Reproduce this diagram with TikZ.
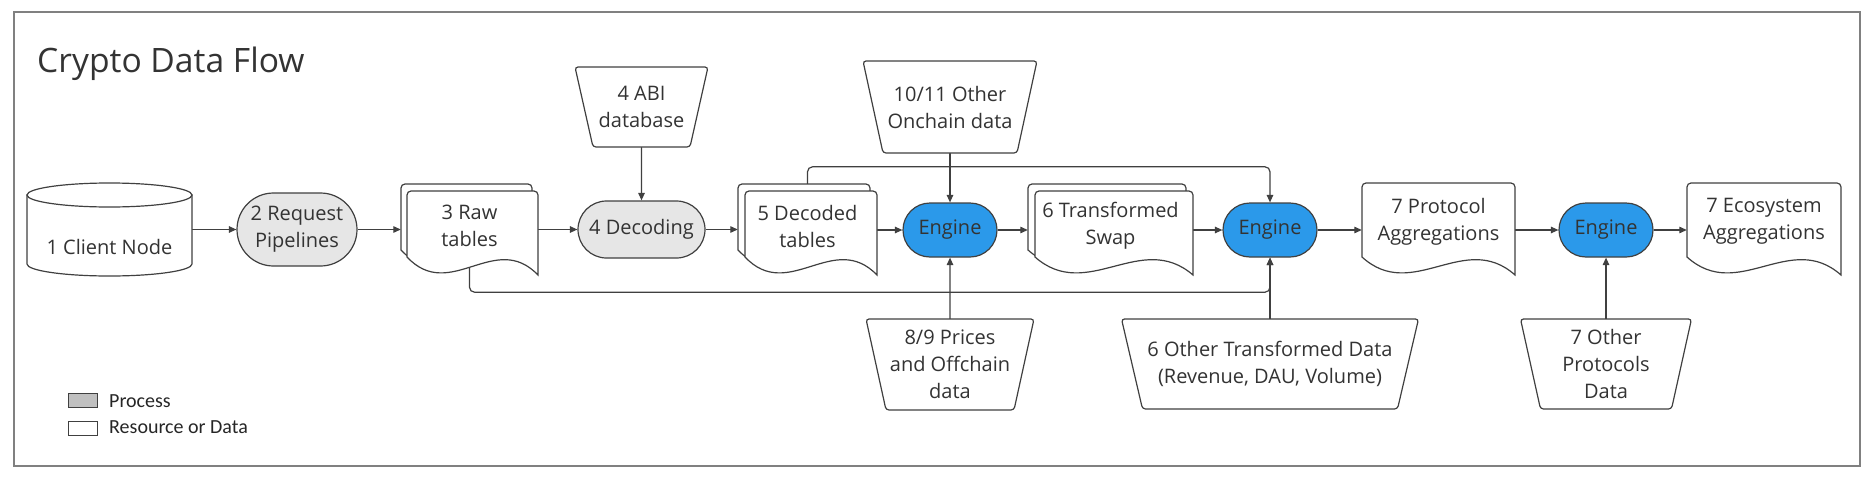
\documentclass[tikz,border=0pt]{standalone}
\usepackage{fontspec}
\setmainfont{Open Sans}
\newfontfamily\legfont{Carlito}
\usetikzlibrary{arrows.meta,shapes.misc,calc}
\pgfdeclarelayer{lines}
\pgfdeclarelayer{shapes}
\pgfsetlayers{lines,shapes,main}
\definecolor{linec}{HTML}{404040}
\definecolor{txt}{HTML}{333333}
\definecolor{procfill}{HTML}{E6E6E6}
\definecolor{engfill}{HTML}{2B99EA}
\definecolor{framec}{HTML}{808080}
\definecolor{legfill}{HTML}{C0C0C0}

% document shape: left, top, right, bottom
\newcommand\docshape[4]{%
  \pgfmathsetmacro\dw{#3-#1}%
  \filldraw[shapeline, fill=white] (#1,#4-18) [rounded corners=4] -- (#1,#2) -- (#3,#2) [sharp corners] -- (#3,#4)
    .. controls (#3-0.33*\dw,#4-45) and (#1+0.33*\dw,#4+28) .. (#1,#4-18) -- cycle;}
% inverted trapezoid: left, top, right, bottom, inset
\newcommand\trapshape[5]{%
  \filldraw[shapeline, fill=white, rounded corners=3] (#1,#2) -- (#3,#2) -- (#3-#5,#4) -- (#1+#5,#4) -- cycle;}

\begin{document}
\begin{tikzpicture}[x=1pt,y=-1pt,
  every node/.style={text=txt, font=\fontsize{20}{27}\selectfont, align=center, inner sep=0pt},
  shapeline/.style={draw=linec, line width=1.2pt},
  textbox/.style={},
  proc/.style={rounded rectangle, draw=linec, line width=1.2pt, fill=procfill},
  engine/.style={rounded rectangle, draw=linec, line width=1.2pt, fill=engfill, minimum width=94, minimum height=54},
  arr/.style={draw=linec, line width=1.2pt, -{Triangle[length=7.5pt,width=6.5pt]}},
  legbox/.style={draw=linec, line width=1pt, minimum width=29, minimum height=14},
  legtext/.style={font=\legfont\fontsize{20}{24}\selectfont, text=black!85, anchor=west}]
\useasboundingbox (0,0) rectangle (1875,477);

% ---------- nodes ----------
\node[anchor=base west, font=\fontsize{33.6}{40}\selectfont] (title) at (37,72) {Crypto Data Flow};

\node[textbox, minimum width=165] (client) at (109.5,247) {1 Client Node};
\node[proc, minimum width=120, minimum height=73] (request) at (297,229.5) {2 Request\\Pipelines};
\node[textbox, minimum width=137, minimum height=84] (raw) at (469.5,226) {3 Raw\\tables};
\node[proc, minimum width=127, minimum height=57] (decoding) at (641.5,229.5) {4 Decoding};
\node[textbox, minimum width=133, minimum height=80] (abi) at (641.5,107) {4 ABI\\database};
\node[textbox, minimum width=139, minimum height=84] (decoded) at (807.5,226) {5 Decoded\\tables};
\node[engine] (engine1) at (950,230) {Engine};
\node[textbox, minimum width=174, minimum height=92] (onchain) at (950,107) {10/11 Other\\Onchain data};
\node[textbox, minimum width=168, minimum height=91] (prices) at (950,364.5) {8/9 Prices\\and Offchain\\data};
\node[textbox, minimum width=165, minimum height=84] (transformed) at (1110.5,226) {6 Transformed\\Swap};
\node[engine] (engine2) at (1270,230) {Engine};
\node[textbox, minimum width=297, minimum height=90] (othertrans) at (1270,364) {6 Other Transformed Data\\(Revenue, DAU, Volume)};
\node[textbox, minimum width=153, minimum height=92] (protocol) at (1438.5,221.5) {7 Protocol\\Aggregations};
\node[engine] (engine3) at (1606,230) {Engine};
\node[textbox, minimum width=171, minimum height=90] (otherprot) at (1606,364) {7 Other\\Protocols\\Data};
\node[textbox, minimum width=154, minimum height=92] (ecosystem) at (1764,221.5) {7 Ecosystem\\Aggregations};

% legend
\node[legbox, fill=legfill] (legproc) at (82.5,400.5) {};
\node[legbox, fill=white] (legdata) at (82.5,428.5) {};
\node[legtext] (legproctext) at (109,401) {Process};
\node[legtext] (legdatatext) at (109,427) {Resource or Data};

% ---------- shapes ----------
\begin{pgfonlayer}{shapes}
  % cylinder
  \filldraw[shapeline, fill=white] (27,195) -- (27,264)
     .. controls (27,270.63) and (63.94,276) .. (109.5,276)
     .. controls (155.06,276) and (192,270.63) .. (192,264) -- (192,195) -- cycle;
  \draw[shapeline, fill=white] (109.5,195) ellipse [x radius=82.5, y radius=12];
  % documents
  \docshape{401}{184}{532}{268}\docshape{407}{191}{538}{275}
  \docshape{738}{184}{870}{268}\docshape{745}{191}{877}{275}
  \docshape{1028}{184}{1186}{268}\docshape{1035}{191}{1193}{275}
  \docshape{1362}{183}{1515}{275}
  \docshape{1687}{183}{1841}{275}
  % trapezoids
  \trapshape{575}{67}{708}{147}{18}
  \trapshape{863}{61}{1037}{153}{20}
  \trapshape{866}{319}{1034}{410}{20}
  \trapshape{1121.5}{319}{1418.5}{409}{21}
  \trapshape{1520.5}{319}{1691.5}{409}{20}
\end{pgfonlayer}

% ---------- connectors ----------
\begin{pgfonlayer}{lines}
  \draw[framec, line width=2pt] (14,12) rectangle (1860,466);
  \draw[arr] (client.east |- request.west) -- (request.west);
  \draw[arr] (request.east) -- (request.east -| raw.west);
  \draw[arr] (raw.east |- decoding.west) -- (decoding.west);
  \draw[arr] (decoding.east) -- (decoding.east -| decoded.west);
  \draw[arr] (decoded.east |- engine1.west) -- (engine1.west);
  \draw[arr] (engine1.east) -- (engine1.east -| transformed.west);
  \draw[arr] (transformed.east |- engine2.west) -- (engine2.west);
  \draw[arr] (engine2.east) -- (engine2.east -| protocol.west);
  \draw[arr] (protocol.east |- engine3.west) -- (engine3.west);
  \draw[arr] (engine3.east) -- (engine3.east -| ecosystem.west);
  \draw[arr] (abi) -- (decoding);
  \draw[arr] (onchain) -- (engine1);
  \draw[arr] (prices) -- (engine1);
  \draw[arr] (othertrans) -- (engine2);
  \draw[arr] (otherprot) -- (engine3);
  \draw[arr, rounded corners=5] (decoded.north) -- ++(0,-17) -| (engine2.north);
  \draw[arr, rounded corners=5] (raw.south) -- ++(0,24) -| (engine2.south);
\end{pgfonlayer}
\end{tikzpicture}
\end{document}
